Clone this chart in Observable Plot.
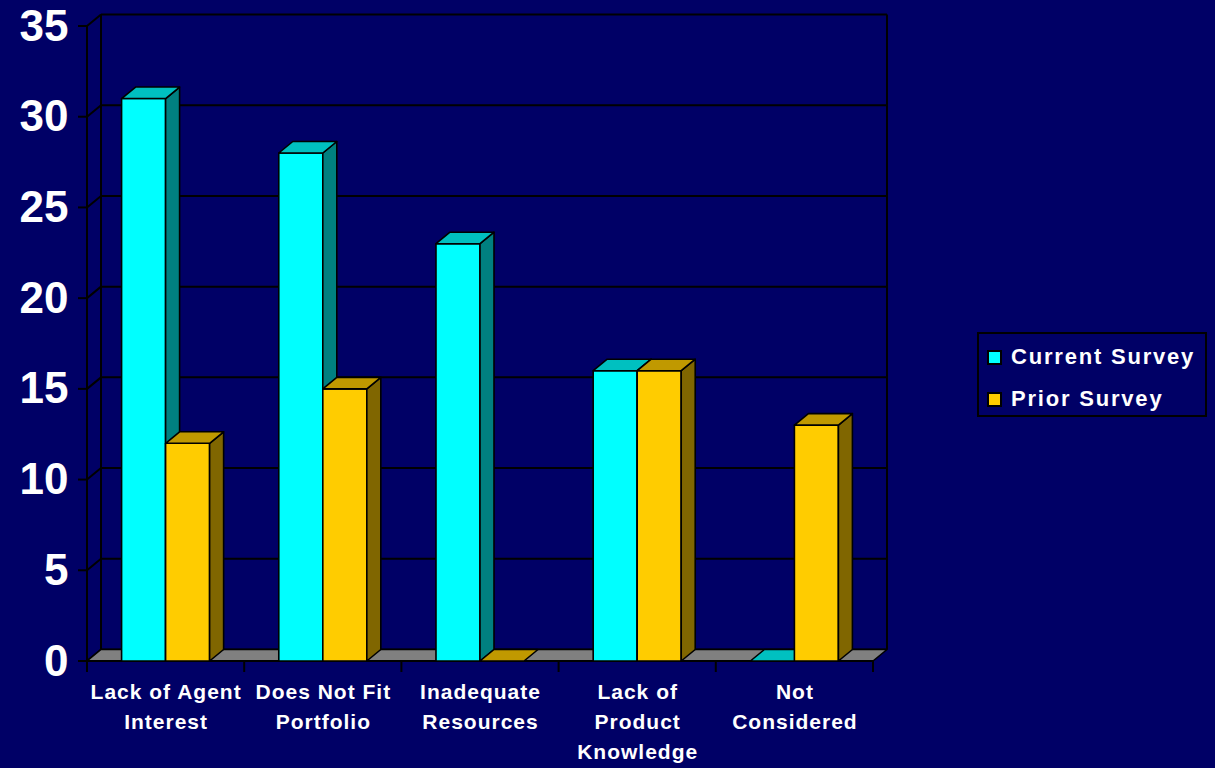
<!DOCTYPE html>
<html>
<head>
<meta charset="utf-8">
<script src="https://cdn.jsdelivr.net/npm/d3@7"></script>
<script src="https://cdn.jsdelivr.net/npm/@observablehq/plot@0.6"></script>
<style>
  html, body { margin: 0; padding: 0; background: #000066; }
  #chart { position: relative; width: 1215px; height: 768px; overflow: hidden; }
  #legend {
    position: absolute; left: 977px; top: 332px; width: 230px; height: 85px;
    box-sizing: border-box; border: 2px solid #000; background: #000066;
    font: bold 22px "Liberation Sans", Arial, sans-serif; color: #fff; letter-spacing: 1.8px;
  }
  #legend .row { position: absolute; left: 8px; height: 24px; display: flex; align-items: center; white-space: nowrap; }
  #legend .sw { width: 11px; height: 11px; border: 2px solid #000; margin-right: 9px; }
  g[font-size="21"] text { letter-spacing: 1px; }
</style>
</head>
<body>
<div id="chart"><div id="legend"></div></div>
<script>
// ---- data ----
const categories = ["Lack of Agent Interest", "Does Not Fit Portfolio", "Inadequate Resources", "Lack of Product Knowledge", "Not Considered"];
const categoryLabels = ["Lack of Agent\nInterest", "Does Not Fit\nPortfolio", "Inadequate\nResources", "Lack of\nProduct\nKnowledge", "Not\nConsidered"];
const seriesNames = ["Current Survey", "Prior Survey"];
const currentSurvey = [31, 28, 23, 16, 0];
const priorSurvey = [12, 15, 0, 16, 13];
const yTicks = [0, 5, 10, 15, 20, 25, 30, 35];

// colours: front, top, side
const palette = {
  "Current Survey": {front: "#00FFFF", top: "#00C0C0", side: "#008080"},
  "Prior Survey": {front: "#FFCC00", top: "#C09900", side: "#806600"}
};

const rows = [];
categories.forEach((c, i) => {
  rows.push({category: c, series: seriesNames[0], value: currentSurvey[i]});
  rows.push({category: c, series: seriesNames[1], value: priorSurvey[i]});
});

const DX = 14, DY = -11.5; // 3D depth offset (pixels)
const BAR_FRAC = 0.28;     // bar width as fraction of category band

function bandInfo(scales, dims) {
  const x0 = dims.marginLeft, x1 = dims.width - dims.marginRight;
  const bw = (scales.x && typeof scales.x.bandwidth === "function") ? scales.x.bandwidth() : (x1 - x0) / categories.length;
  return {x0, x1, bw};
}

function poly(g, pts, fill) {
  g.append("polygon")
    .attr("points", pts.map(p => p.join(",")).join(" "))
    .attr("fill", fill).attr("stroke", "#000").attr("stroke-width", 1.6)
    .attr("stroke-linejoin", "round");
}

// structural mark: walls, gridlines, floor, ticks
function renderFrame(index, scales, values, dims) {
  const g = d3.create("svg:g");
  const {x0, x1, bw} = bandInfo(scales, dims);
  const y = scales.y;
  const y0 = y(0), yTop = y(yTicks[yTicks.length - 1]);
  const line = (a, b, w = 2) => g.append("line").attr("x1", a[0]).attr("y1", a[1]).attr("x2", b[0]).attr("y2", b[1])
    .attr("stroke", "#000").attr("stroke-width", w);
  for (const t of yTicks) {
    const yt = y(t);
    line([x0 + DX, yt + DY], [x1 + DX, yt + DY]);   // back wall grid
    line([x0, yt], [x0 + DX, yt + DY]);             // side wall
    line([x0 - 9, yt], [x0, yt]);                   // tick
  }
  line([x0 + DX, y0 + DY], [x0 + DX, yTop + DY]);
  line([x1 + DX, y0 + DY], [x1 + DX, yTop + DY]);
  line([x0, y0], [x0, yTop]);
  // floor
  poly(g, [[x0, y0], [x0 + DX, y0 + DY], [x1 + DX, y0 + DY], [x1, y0]], "#808080");
  line([x0 - 9, y0], [x1, y0]);
  for (let i = 0; i <= categories.length; i++) {
    const xt = x0 + i * bw;
    line([xt, y0], [xt, y0 + 11]);
  }
  return g.node();
}

// 3D bars
function renderBars(index, scales, values, dims) {
  const g = d3.create("svg:g");
  const {bw} = bandInfo(scales, dims);
  const w = bw * BAR_FRAC;
  const y = scales.y;
  for (const i of index) {
    const d = rows[i];
    const col = palette[d.series];
    const center = scales.x(d.category) + bw / 2;
    const xa = d.series === seriesNames[0] ? center - w : center;
    const xb = xa + w;
    const yb = y(0), yt = y(d.value);
    if (d.value > 0) {
      poly(g, [[xa, yb], [xa, yt], [xb, yt], [xb, yb]], col.front);
      poly(g, [[xb, yt], [xb + DX, yt + DY], [xb + DX, yb + DY], [xb, yb]], col.side);
    }
    poly(g, [[xa, yt], [xa + DX, yt + DY], [xb + DX, yt + DY], [xb, yt]], col.top);
  }
  return g.node();
}

const chart = Plot.plot({
  width: 1215,
  height: 768,
  marginLeft: 87,
  marginRight: 342,
  marginTop: 26,
  marginBottom: 107,
  style: {background: "#000066", color: "#fff", fontFamily: "'Liberation Sans', Arial, sans-serif", overflow: "visible"},
  x: {type: "band", domain: categories, paddingInner: 0, paddingOuter: 0, round: false, axis: null},
  y: {domain: [0, 35], axis: null},
  marks: [
    Plot.ruleY(yTicks, {y: d => d, render: renderFrame}),
    Plot.barY(rows, {x: "category", y: "value", render: renderBars}),
    Plot.text(yTicks, {y: d => d, frameAnchor: "left", dx: -19, textAnchor: "end", text: d => String(d),
      fill: "#fff", fontSize: 44, fontWeight: "bold"}),
    Plot.text(categories, {x: d => d, y: () => 0, text: (d, i) => categoryLabels[i], lineAnchor: "top",
      dy: 16, lineHeight: 1.43, fill: "#fff", fontSize: 21, fontWeight: "bold"})
  ]
});

const container = document.getElementById("chart");
container.insertBefore(chart, container.firstChild);

const legend = document.getElementById("legend");
seriesNames.forEach((s, i) => {
  const row = document.createElement("div");
  row.className = "row";
  row.style.top = (11 + i * 42) + "px";
  const sw = document.createElement("div");
  sw.className = "sw";
  sw.style.background = palette[s].front;
  const label = document.createElement("span");
  label.textContent = s;
  row.appendChild(sw);
  row.appendChild(label);
  legend.appendChild(row);
});
</script>
</body>
</html>
